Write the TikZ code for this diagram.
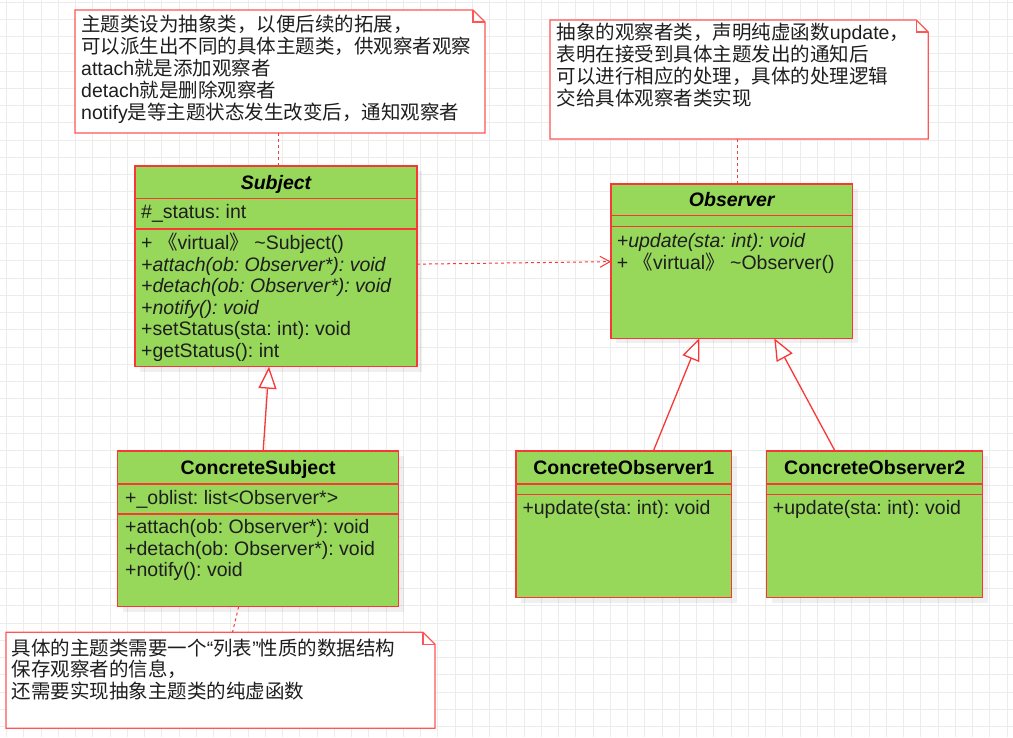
\documentclass[tikz,border=0pt]{standalone}
\usepackage{fontspec}
\setmainfont{Liberation Sans}
\newfontfamily\cjk{Noto Sans CJK SC}
\newcommand\cj[1]{{\cjk #1}}
\usetikzlibrary{arrows.meta,shadows}
\definecolor{umlgreen}{RGB}{151,215,90}
\definecolor{umlred}{RGB}{250,55,55}
\definecolor{notered}{RGB}{255,85,85}
\definecolor{gridc}{RGB}{236,236,236}
\definecolor{txt}{RGB}{30,30,30}
\frenchspacing
\begin{document}
\begin{tikzpicture}[x=1pt,y=-1pt,
  cls/.style={draw=umlred, fill=umlgreen, line width=1.3pt, rectangle, inner sep=0, outer sep=0, anchor=north west,
    drop shadow={shadow xshift=5pt, shadow yshift=-5pt, fill=black, opacity=0.06}},
  sep/.style={draw=umlred, line width=1.3pt},
  tl/.style={anchor=base west, inner sep=0, text=txt, font=\fontsize{19.5}{21.5}\selectfont},
  hdr/.style={anchor=base, inner sep=0, text=black, font=\fontsize{19.5}{21.5}\selectfont\bfseries},
  note/.style={rectangle, inner sep=0, outer sep=0, anchor=north west, draw=none},
  notebord/.style={draw=notered, line width=1.3pt, line join=miter},
  gridline/.style={draw=gridc, line width=1pt},
  dashc/.style={draw=umlred, line width=1pt, dash pattern=on 3pt off 3pt},
  inh/.style={draw=umlred, line width=1.3pt, -{Triangle[length=22pt,width=18pt,fill=white]}},
]
\useasboundingbox (0,0) rectangle (1013,737);
\fill[white] (0,0) rectangle (1013,737);
\foreach \i in {0,...,58} \draw[gridline] ({6.5+17.25*\i},0) -- ({6.5+17.25*\i},737);
\foreach \j in {0,...,42} \draw[gridline] (0,{2.2+17.25*\j}) -- (1013,{2.2+17.25*\j});

% ---------- classes ----------
\node[cls, minimum width=282pt, minimum height=200.7pt] (subj) at (135,166) {};
\draw[sep] ([yshift=-32.5pt]subj.north west) -- ([yshift=-32.5pt]subj.north east);
\draw[sep] ([yshift=-63pt]subj.north west) -- ([yshift=-63pt]subj.north east);

\node[cls, minimum width=241.5pt, minimum height=154.3pt] (obs) at (611,184) {};
\draw[sep] ([yshift=-31.7pt]obs.north west) -- ([yshift=-31.7pt]obs.north east);
\draw[sep] ([yshift=-42.7pt]obs.north west) -- ([yshift=-42.7pt]obs.north east);

\node[cls, minimum width=281.3pt, minimum height=155.7pt] (cs) at (117.5,451) {};
\draw[sep] ([yshift=-33pt]cs.north west) -- ([yshift=-33pt]cs.north east);
\draw[sep] ([yshift=-63pt]cs.north west) -- ([yshift=-63pt]cs.north east);

\node[cls, minimum width=215.7pt, minimum height=146.7pt] (co1) at (516,451) {};
\draw[sep] ([yshift=-33pt]co1.north west) -- ([yshift=-33pt]co1.north east);
\draw[sep] ([yshift=-43.3pt]co1.north west) -- ([yshift=-43.3pt]co1.north east);

\node[cls, minimum width=216pt, minimum height=146.7pt] (co2) at (766.7,451) {};
\draw[sep] ([yshift=-33pt]co2.north west) -- ([yshift=-33pt]co2.north east);
\draw[sep] ([yshift=-43.3pt]co2.north west) -- ([yshift=-43.3pt]co2.north east);

% ---------- class texts ----------
\node[hdr] (subjh) at (276,189) {\itshape Subject};
\node[tl] (subja) at (141,218.8) {\#\_status: int};
\foreach[count=\k from 0] \mytext in {{+ \cj{《}virtual\cj{》} \textasciitilde Subject()},
  {\itshape +attach(ob: Observer*): void},
  {\itshape +detach(ob: Observer*): void},
  {\itshape +notify(): void},
  {+setStatus(sta: int): void},
  {+getStatus(): int}}
  \node[tl] (subjm\k) at (141,{249.8+21.5*\k}) {\mytext};

\node[hdr] (obsh) at (731.75,206.7) {\itshape Observer};
\foreach[count=\k from 0] \mytext in {{\itshape +update(sta: int): void},
  {+ \cj{《}virtual\cj{》} \textasciitilde Observer()}}
  \node[tl] (obsm\k) at (616.7,{247.5+21.5*\k}) {\mytext};

\node[hdr] (csh) at (258.15,474.3) {ConcreteSubject};
\node[tl] (csa) at (125,504.8) {+\_oblist: list<Observer*>};
\foreach[count=\k from 0] \mytext in {{+attach(ob: Observer*): void},
  {+detach(ob: Observer*): void},
  {+notify(): void}}
  \node[tl] (csm\k) at (125,{533.2+21.8*\k}) {\mytext};

\node[hdr] (co1h) at (623.85,474.3) {ConcreteObserver1};
\node[tl] (co1m) at (522.3,514.8) {+update(sta: int): void};
\node[hdr] (co2h) at (874.7,474.3) {ConcreteObserver2};
\node[tl] (co2m) at (772.7,514.8) {+update(sta: int): void};

% ---------- notes ----------
\node[note, minimum width=410pt, minimum height=123pt] (n1) at (75,10) {};
\node[note, minimum width=378.3pt, minimum height=119pt] (n2) at (550,20) {};
\node[note, minimum width=429pt, minimum height=96pt] (n3) at (6,632.3) {};
\foreach \n in {n1,n2,n3} {
  \filldraw[notebord, fill=white] (\n.north west) -- ([xshift=-12pt]\n.north east) -- ([yshift=-12pt]\n.north east)
    -- (\n.south east) -- (\n.south west) -- cycle;
  \draw[notebord] ([xshift=-12pt]\n.north east) -- ([xshift=-12pt,yshift=-12pt]\n.north east) -- ([yshift=-12pt]\n.north east);
}
\foreach[count=\k from 0] \mytext in {{\cj{主题类设为抽象类，以便后续的拓展，}},
  {\cj{可以派生出不同的具体主题类，供观察者观察}},
  {attach\cj{就是添加观察者}},
  {detach\cj{就是删除观察者}},
  {notify\cj{是等主题状态发生改变后，通知观察者}}}
  \node[tl] (n1t\k) at (81,{31.7+22*\k}) {\mytext};
\foreach[count=\k from 0] \mytext in {{\cj{抽象的观察者类，声明纯虚函数}update\cj{，}},
  {\cj{表明在接受到具体主题发出的通知后}},
  {\cj{可以进行相应的处理，具体的处理逻辑}},
  {\cj{交给具体观察者类实现}}}
  \node[tl] (n2t\k) at (556.7,{39.1+22.2*\k}) {\mytext};
\foreach[count=\k from 0] \mytext in {{\cj{具体的主题类需要一个}“\cj{列表}”\cj{性质的数据结构}},
  {\cj{保存观察者的信息，}},
  {\cj{还需要实现抽象主题类的纯虚函数}}}
  \node[tl] (n3t\k) at (11.7,{655.7+21.2*\k}) {\mytext};

% ---------- connectors ----------
\draw[dashc] ([xshift=-1.7pt]n1.south) -- ([xshift=2.3pt]subj.north);
\draw[dashc] ([xshift=-2pt]n2.south) -- ([xshift=5.4pt]obs.north);
\draw[dashc] ([xshift=-19.5pt]cs.south) -- ([xshift=12pt]n3.north);
\draw[dashc, -{Straight Barb[length=10pt,width=11pt,line width=1pt]}] ([yshift=2.2pt]subj.east) -- ([yshift=-0.5pt]obs.west);
\draw[inh] ([xshift=5pt]cs.north) -- ([xshift=-7pt]subj.south);
\draw[inh] ([xshift=29.5pt]co1.north) -- ([xshift=-32.5pt]obs.south);
\draw[inh] ([xshift=-39.7pt]co2.north) -- ([xshift=42.5pt]obs.south);
\end{tikzpicture}
\end{document}
